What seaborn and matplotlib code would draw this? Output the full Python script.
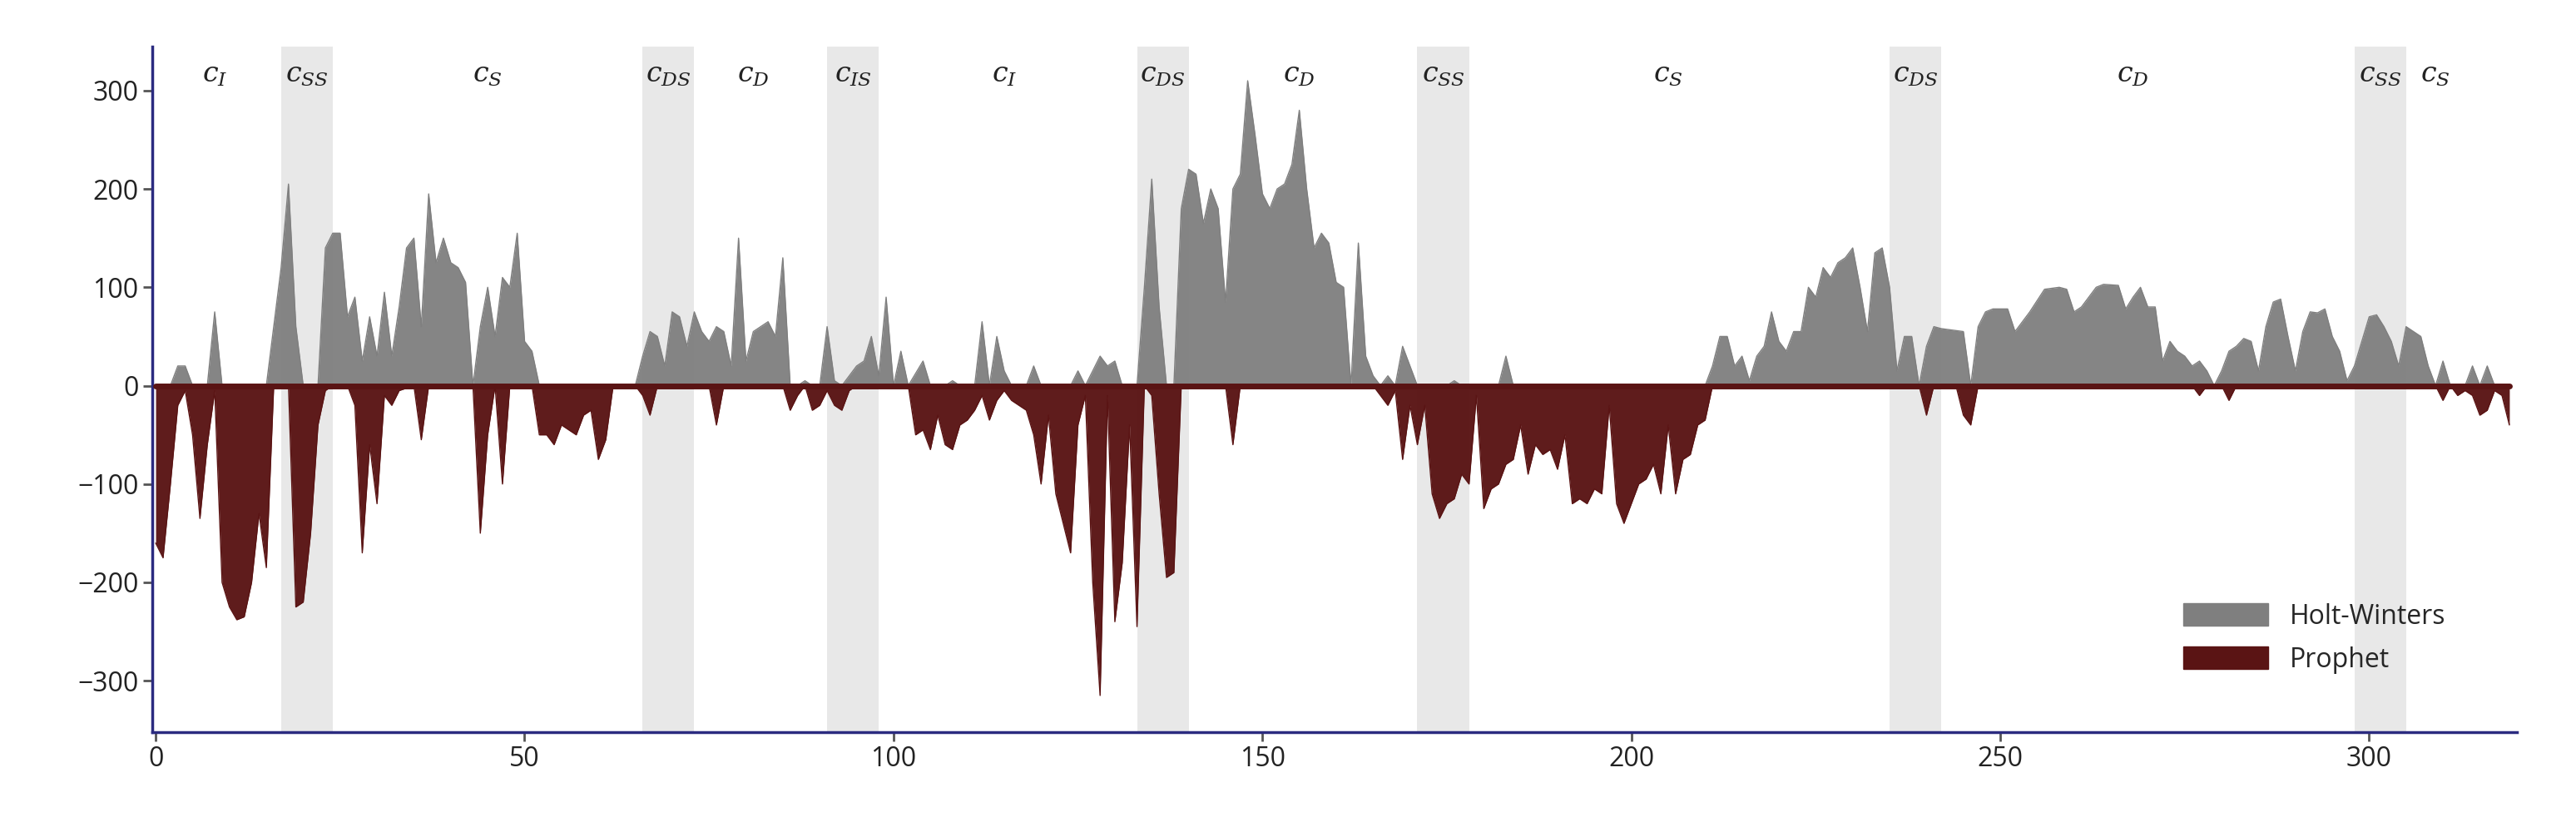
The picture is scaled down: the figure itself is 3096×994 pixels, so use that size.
import numpy as np
import pandas as pd
import matplotlib
matplotlib.use("Agg")
import matplotlib.pyplot as plt
import seaborn as sns

hw_x = [0,2,3,4,5,7,8,9,15,17,18,19,20,22,23,24,25,26,27,28,29,30,31,32,33,34,35,36,37,38,39,40,41,42,43,44,45,46,47,48,49,50,51,52,
        65,66,67,68,69,70,71,72,73,74,75,76,77,78,79,80,81,82,83,84,85,86,87,88,89,90,91,92,93,95,96,97,98,99,100,101,102,104,105,
        107,108,109,111,112,113,114,115,116,118,119,120,124,125,126,128,129,130,131,133,134,135,136,137,138,139,140,141,142,143,144,
        145,146,147,148,149,150,151,152,153,154,155,156,157,158,159,160,161,162,163,164,165,166,167,168,169,170,171,175,176,177,182,183,184,
        210,211,212,213,214,215,216,217,218,219,220,221,222,223,224,225,226,227,228,229,230,231,232,233,234,235,236,237,238,239,240,241,242,245,246,
        247,248,249,251,252,254,256,258,259,260,261,262,263,264,266,267,268,269,270,271,272,273,274,275,276,277,278,279,280,281,282,283,284,285,
        286,287,288,289,290,291,292,293,294,295,296,297,298,300,301,302,303,304,305,306,307,308,309,310,311,313,314,315,316,317,319]
hw_y = [0,0,20,20,0,0,75,0,0,120,205,60,0,0,140,155,155,70,90,25,70,30,95,30,80,140,150,60,195,125,150,125,120,105,0,60,100,50,110,100,155,45,35,0,
        0,30,55,50,20,75,70,40,75,55,45,60,55,20,150,25,55,60,65,50,130,0,0,5,0,0,60,5,0,20,25,50,10,90,0,35,0,25,0,
        0,5,0,0,65,0,50,15,0,0,20,0,0,15,0,30,20,25,0,0,100,210,80,0,0,180,220,215,165,200,180,
        85,200,215,310,255,195,180,200,205,225,280,200,140,155,145,105,100,0,145,30,10,0,10,0,40,20,0,0,5,0,0,30,0,
        0,20,50,50,20,30,5,30,40,75,45,35,55,55,100,90,120,110,125,130,140,100,55,135,140,100,15,50,50,0,40,60,58,55,0,
        60,75,78,78,55,75,98,100,98,75,80,90,100,103,102,78,90,100,80,80,25,45,35,30,20,25,15,0,15,35,40,48,45,15,
        60,85,88,50,15,55,75,74,78,50,35,5,20,70,72,60,45,20,60,55,50,20,0,25,0,0,20,0,20,0,0]

pr_x = [0,1,2,3,4,5,6,7,8,9,10,11,12,13,14,15,16,18,19,20,21,22,23,24,26,27,28,29,30,31,32,33,35,36,37,43,44,45,46,47,48,51,
        52,53,54,55,56,57,58,59,60,61,62,65,66,67,68,75,76,77,85,86,87,88,89,90,91,92,93,94,95,102,103,104,105,106,107,108,109,110,
        111,112,113,114,115,116,117,118,119,120,121,122,123,124,125,126,127,128,129,130,131,132,133,134,135,136,137,138,139,145,146,147,
        165,166,167,168,169,170,171,172,173,174,175,176,177,178,179,180,181,182,183,184,185,186,187,188,189,190,191,192,193,194,195,196,
        197,198,199,200,201,202,203,204,205,206,207,208,209,210,211,239,240,241,244,245,246,247,276,277,278,280,281,282,309,310,311,312,
        313,314,315,316,317,318,319]
pr_y = [-160,-175,-100,-20,-5,-50,-135,-60,-5,-200,-225,-238,-235,-200,-130,-185,0,0,-225,-220,-150,-40,-5,0,0,-20,-170,-60,-120,-10,-20,-5,0,-55,0,0,-150,-50,0,-100,0,0,
        -50,-50,-60,-40,-45,-50,-30,-25,-75,-55,0,0,-10,-30,0,0,-40,0,0,-25,-10,0,-25,-20,-5,-20,-25,-5,0,0,-50,-45,-65,-30,-60,-65,-40,-35,
        -25,-10,-35,-15,-5,-15,-20,-25,-50,-100,-30,-110,-140,-170,-40,-10,-200,-315,-10,-240,-180,-40,-245,0,-10,-110,-195,-190,0,0,-60,0,
        0,-10,-20,-5,-75,-20,-60,-20,-110,-135,-120,-115,-90,-100,-10,-125,-105,-100,-80,-75,-40,-90,-60,-70,-65,-85,-50,-120,-115,-120,-105,-110,
        -20,-120,-140,-120,-100,-95,-80,-110,-40,-110,-75,-70,-40,-35,0,0,-30,0,0,-30,-40,0,0,-10,0,0,-15,0,0,-15,0,-10,
        -5,-10,-30,-25,-5,-10,-40]

bands = [(17, 24), (66, 73), (91, 98), (133, 140), (171, 178), (235, 242), (298, 305)]
labels = ["I", "SS", "S", "DS", "D", "IS", "I", "DS", "D", "SS", "S", "DS", "D", "SS", "S"]
label_x = [8, 20.5, 45, 69.5, 81, 94.5, 115, 136.5, 155, 174.5, 205, 238.5, 268, 301.5, 309]

sns.set_theme(style="ticks")
plt.rcParams['font.family'] = ['Open Sans', 'DejaVu Sans']
plt.rcParams['mathtext.fontset'] = 'dejavuserif'

fig, ax = plt.subplots(figsize=(30.96, 9.94), dpi=100)
fig.subplots_adjust(left=0.059, right=0.977, top=0.944, bottom=0.115)

for a, b in bands:
    ax.axvspan(a, b, color="#e8e8e8", zorder=0, lw=0)

hw = pd.DataFrame({"x": hw_x, "y": hw_y})
pr = pd.DataFrame({"x": pr_x, "y": pr_y})
ax.fill_between(hw["x"], 0, hw["y"], color="#7f7f7f", alpha=0.95, lw=0, label="Holt-Winters", zorder=2)
sns.lineplot(data=hw, x="x", y="y", ax=ax, color="#7f7f7f", lw=1, zorder=2)
ax.fill_between(pr["x"], 0, pr["y"], color="#5a1414", alpha=0.97, lw=0, label="Prophet", zorder=3)
sns.lineplot(data=pr, x="x", y="y", ax=ax, color="#5a1414", lw=1, zorder=3)
ax.plot([0, 319], [0, 0], color="#5a1414", lw=5, zorder=3)

for lx, lab in zip(label_x, labels):
    ax.text(lx, 330, r"$c_{%s}$" % lab, ha="center", va="top", fontsize=24, color="#222222")

ax.set_xlim(-0.5, 320)
ax.set_ylim(-352, 345)
ax.set_xticks([0, 50, 100, 150, 200, 250, 300])
ax.set_yticks([-300, -200, -100, 0, 100, 200, 300])
ax.set_yticklabels(["\u2212300", "\u2212200", "\u2212100", "0", "100", "200", "300"])
ax.set_xlabel("")
ax.set_ylabel("")
ax.tick_params(labelsize=23, length=8, width=2, color="#555555", labelcolor="#222222")
for s in ["top", "right"]:
    ax.spines[s].set_visible(False)
for s in ["left", "bottom"]:
    ax.spines[s].set_color("#2b2b80")
    ax.spines[s].set_linewidth(2.5)

from matplotlib.patches import Patch
handles = [Patch(color="#7f7f7f", label="Holt-Winters"), Patch(color="#5a1414", label="Prophet")]
ax.legend(handles=handles, loc="lower right", bbox_to_anchor=(0.98, 0.05), frameon=False,
          fontsize=23, handlelength=3.2, handleheight=0.9, labelspacing=0.6)

fig.savefig("out.png", dpi=100)
